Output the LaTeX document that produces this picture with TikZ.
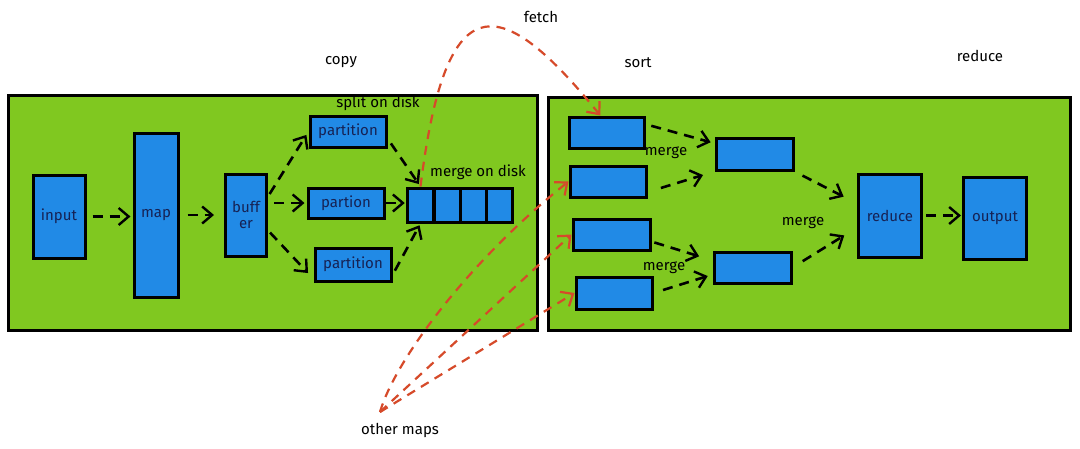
\documentclass[tikz,border=0pt]{standalone}
\usepackage{fontspec}
\setmainfont{Fira Sans}
\usepackage{tikz}
\usetikzlibrary{arrows.meta,calc,positioning}
\usepackage{xcolor}
\definecolor{panelgreen}{RGB}{128,200,32}
\definecolor{boxblue}{RGB}{33,138,230}
\definecolor{fetchred}{RGB}{214,74,42}
\definecolor{textnavy}{RGB}{22,34,84}

\begin{document}
\begin{tikzpicture}[x=1pt,y=-1pt,
  panel/.style={draw=black,line width=3pt,fill=panelgreen},
  blk/.style={draw=black,line width=3pt,fill=boxblue,inner sep=0pt,text=textnavy,
    font=\fontsize{15}{16}\selectfont,align=center},
  flow/.style={line width=2.6pt,dash pattern=on 10pt off 7pt,
    -{Straight Barb[length=10pt,width=17pt,line width=2.4pt]}},
  fetchline/.style={fetchred,line width=2.2pt,dash pattern=on 9pt off 7pt,
    -{Straight Barb[length=10pt,width=17pt,line width=2.2pt]}},
  lbl/.style={font=\fontsize{15}{16}\selectfont}]
\useasboundingbox (0,0) rectangle (1080,448);
\fill[white] (0,0) rectangle (1080,448);
\draw[panel] (8,95) rectangle (537,330);
\draw[panel] (548,97) rectangle (1070,330);

\node[lbl] (copylbl) at (341,62) {copy};
\node[lbl] (fetchlbl) at (541,17) {fetch};
\node[lbl] (sortlbl) at (638,63) {sort};
\node[lbl] (reducelbl) at (980,56) {reduce};
\node[lbl] (otherlbl) at (400,430) {other maps};
\node[lbl] (splitlbl) at (378,103) {split on disk};
\node[lbl] (mdisklbl) at (478,172) {merge on disk};

\node[blk,minimum width=52,minimum height=83] (input) at (59,216.5) {input};
\node[blk,minimum width=44,minimum height=164] (map) at (156,215) {map};
\node[blk,minimum width=41,minimum height=82] (buffer) at (246,215) {buff\\er};
\node[blk,minimum width=76,minimum height=31] (part1) at (348,131.5) {partition};
\node[blk,minimum width=76,minimum height=30] (part2) at (346,203) {partion};
\node[blk,minimum width=76,minimum height=33] (part3) at (353,264.5) {partition};
\node[blk,minimum width=26.5,minimum height=34] (c1) at (420.5,205) {};
\node[blk,minimum width=26,minimum height=34] (c2) at (447,205) {};
\node[blk,minimum width=26,minimum height=34] (c3) at (473,205) {};
\node[blk,minimum width=26.5,minimum height=34] (c4) at (499.5,205) {};

\node[blk,minimum width=75,minimum height=31] (sort1) at (606.5,132.5) {};
\node[blk,minimum width=76,minimum height=31] (sort2) at (608,181.5) {};
\node[blk,minimum width=77,minimum height=31] (sort3) at (611.5,234.5) {};
\node[blk,minimum width=76,minimum height=32] (sort4) at (614,293) {};
\node[blk,minimum width=77,minimum height=32] (mrg1) at (754.5,154) {};
\node[blk,minimum width=77,minimum height=31] (mrg2) at (752.5,267.5) {};
\node[blk,minimum width=63,minimum height=83] (reduce) at (890,215.5) {reduce};
\node[blk,minimum width=63,minimum height=82] (output) at (995,218) {output};

\node[lbl] (merge1) at (666,153) {merge};
\node[lbl] (merge2) at (664,268) {merge};
\node[lbl] (merge3) at (803,223) {merge};

\draw[flow,shorten <=6pt,shorten >=2pt] (input.east) -- (input.east -| map.west);
\draw[flow,shorten <=8pt,shorten >=10pt] (map.east) -- (map.east -| buffer.west);
\draw[flow,shorten <=3pt,shorten >=4pt] (buffer.40) -- (part1.west);
\draw[flow,shorten <=6pt,shorten >=2pt] (buffer.east |- part2.west) -- (part2.west);
\draw[flow,shorten <=3pt,shorten >=8pt] (buffer.-35) -- (part3.200);
\draw[flow,shorten <=6pt,shorten >=3pt] (part1.-10) -- (c1.north);
\draw[flow,shorten >=1pt] (part2.east) -- (part2.east -| c1.west);
\draw[flow,shorten <=5pt,shorten >=2pt] (part3.-15) -- (c1.south);

\draw[flow,shorten <=6pt,shorten >=4pt] (sort1.12) -- (mrg1.165);
\draw[flow,shorten <=14pt,shorten >=12pt] (sort2.-15) -- (mrg1.south west);
\draw[flow,shorten <=3pt,shorten >=14pt] (sort3.-10) -- (mrg2.170);
\draw[flow,shorten <=10pt,shorten >=5pt] (sort4.east) -- (mrg2.190);
\draw[flow,shorten <=9pt,shorten >=15pt] (mrg1.south east) -- (reduce.160);
\draw[flow,shorten <=12pt,shorten >=15pt] (mrg2.east) -- (reduce.200);
\draw[flow,shorten <=3pt,shorten >=1pt] (reduce.east) -- (reduce.east -| output.west);

\coordinate (om) at (380,412);
\draw[fetchline] (c1.north) .. controls (445,-10) and (495,-15) .. (sort1.110);
\draw[fetchline] (om) .. controls (395,360) and (470,260) .. (sort2.west);
\draw[fetchline] (om) -- (sort3.west);
\draw[fetchline] (om) -- (sort4.west);
\end{tikzpicture}
\end{document}
